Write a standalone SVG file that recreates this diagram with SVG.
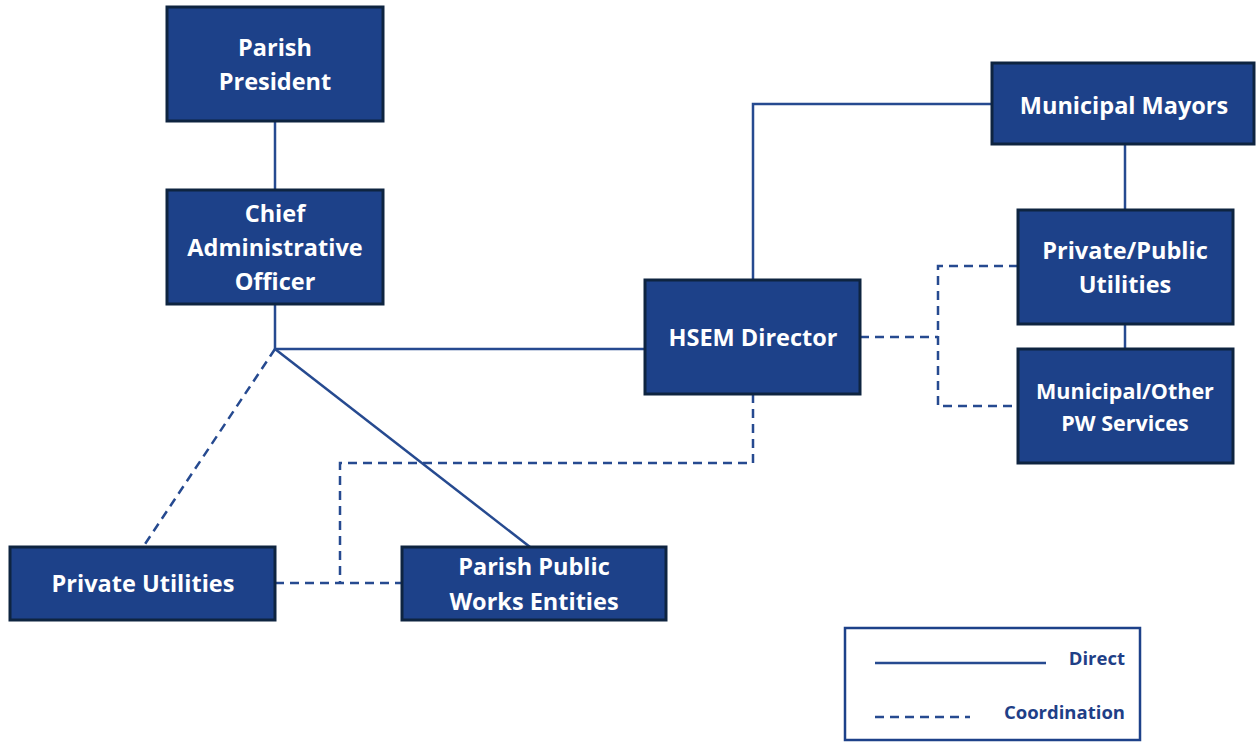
<svg xmlns="http://www.w3.org/2000/svg" width="1257" height="742" viewBox="0 0 1257 742">
  <style>
    .box { fill: #1d4189; stroke: #0e2440; stroke-width: 3; }
    .lbl { fill: #ffffff; font-family: "Open Sans", "Liberation Sans", sans-serif; font-weight: bold; font-size: 23.5px; text-anchor: middle; dominant-baseline: central; }
    .sm { font-size: 21.5px; }
    .direct { fill: none; stroke: #264a90; stroke-width: 2.5; }
    .coord { fill: none; stroke: #264a90; stroke-width: 2.5; stroke-dasharray: 9 6; }
    .legend-box { fill: #ffffff; stroke: #1d4189; stroke-width: 2.5; }
    .legend-txt { fill: #1f3f87; font-family: "Open Sans", "Liberation Sans", sans-serif; font-weight: bold; font-size: 18.5px; text-anchor: end; dominant-baseline: central; }
  </style>

  <rect width="1257" height="742" fill="#ffffff"/>

  <!-- connectors -->
  <g id="connectors">
    <line class="direct" x1="275" y1="121" x2="275" y2="190"/>
    <polyline class="direct" points="275,304 275,349 645,349"/>
    <line class="direct" x1="275" y1="349" x2="530" y2="547"/>
    <line class="coord" x1="275" y1="349" x2="143" y2="547"/>
    <polyline class="direct" points="753,280 753,104 992,104"/>
    <line class="direct" x1="1125" y1="144" x2="1125" y2="210"/>
    <line class="direct" x1="1125" y1="324" x2="1125" y2="349"/>
    <line class="coord" x1="860" y1="337" x2="938" y2="337"/>
    <polyline class="coord" points="1018,266 938,266 938,406 1018,406"/>
    <polyline class="coord" points="753,394 753,463 340,463 340,583"/>
    <line class="coord" x1="275" y1="583" x2="402" y2="583"/>
  </g>

  <g id="parish-president">
    <rect class="box" x="167" y="7" width="216" height="114"/>
    <text class="lbl" x="275" y="47">Parish</text>
    <text class="lbl" x="275" y="81">President</text>
  </g>

  <g id="chief-administrative-officer">
    <rect class="box" x="167" y="190" width="216" height="114"/>
    <text class="lbl" x="275" y="213">Chief</text>
    <text class="lbl" x="275" y="247">Administrative</text>
    <text class="lbl" x="275" y="281">Officer</text>
  </g>

  <g id="hsem-director">
    <rect class="box" x="645" y="280" width="215" height="114"/>
    <text class="lbl" x="753" y="337">HSEM Director</text>
  </g>

  <g id="municipal-mayors">
    <rect class="box" x="992" y="63" width="262" height="81"/>
    <text class="lbl" x="1124" y="105">Municipal Mayors</text>
  </g>

  <g id="private-public-utilities">
    <rect class="box" x="1018" y="210" width="215" height="114"/>
    <text class="lbl" x="1125" y="250">Private/Public</text>
    <text class="lbl" x="1125" y="284">Utilities</text>
  </g>

  <g id="municipal-other-pw-services">
    <rect class="box" x="1018" y="349" width="215" height="114"/>
    <text class="lbl sm" x="1125" y="390">Municipal/Other</text>
    <text class="lbl sm" x="1125" y="422">PW Services</text>
  </g>

  <g id="private-utilities">
    <rect class="box" x="10" y="547" width="265" height="73"/>
    <text class="lbl" x="143" y="583">Private Utilities</text>
  </g>

  <g id="parish-public-works-entities">
    <rect class="box" x="402" y="547" width="264" height="73"/>
    <text class="lbl" x="534" y="566">Parish Public</text>
    <text class="lbl" x="534" y="601">Works Entities</text>
  </g>

  <g id="legend">
    <rect class="legend-box" x="845" y="628" width="295" height="112"/>
    <line class="direct" x1="875" y1="663" x2="1046" y2="663"/>
    <text class="legend-txt" x="1125" y="657">Direct</text>
    <line class="coord" x1="875" y1="717" x2="970" y2="717"/>
    <text class="legend-txt" x="1125" y="711">Coordination</text>
  </g>
</svg>
